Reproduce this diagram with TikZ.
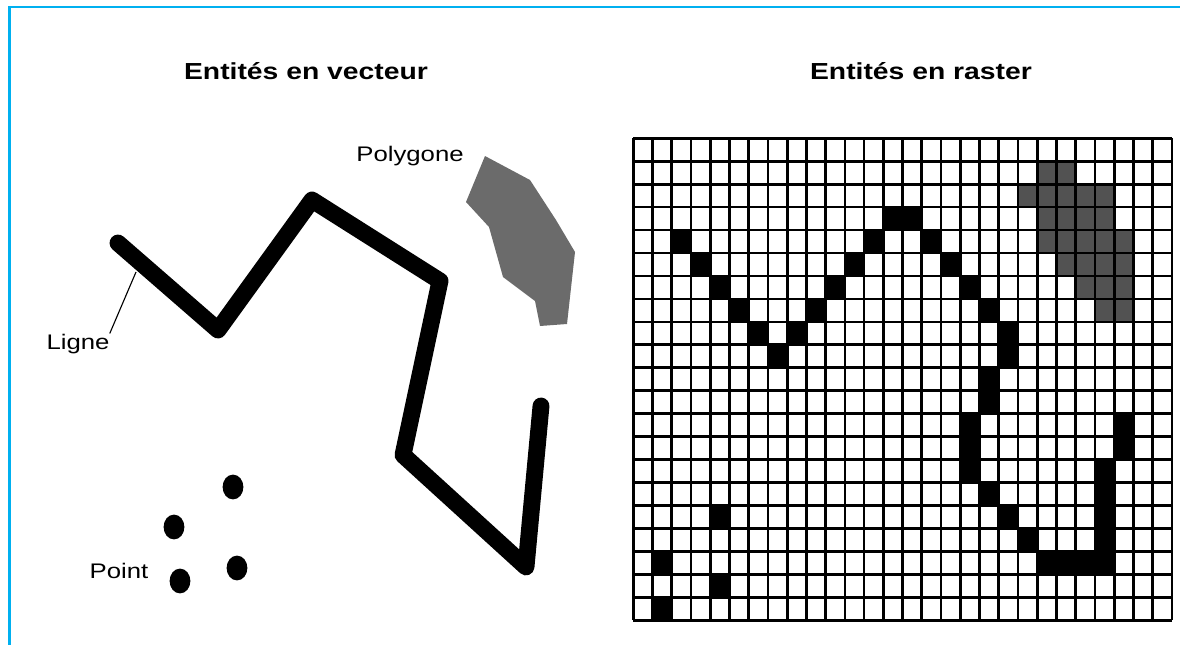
\documentclass[tikz,border=0pt]{standalone}
\usepackage{fontspec}
\setmainfont{Liberation Sans}
\usetikzlibrary{calc,positioning}

\definecolor{frameblue}{RGB}{0,176,240}
\newcommand{\wide}[1]{\scalebox{1.22}[1]{#1}}

\begin{document}
\begin{tikzpicture}[
    x = 0.025cm, y = -0.025cm,
    font = \fontsize{15pt}{18pt}\selectfont
  ]

  \useasboundingbox (0,0) rectangle (1180,645);

  \tikzstyle {every node} = [inner sep = 0, anchor = base]
  \tikzstyle {title} = [font = \fontsize{16.5pt}{20pt}\selectfont\bfseries]
  \tikzstyle {lbl} = [font = \fontsize{15pt}{18pt}\selectfont]
  \tikzstyle {vline} = [line width = 12pt, line join = round, line cap = round]
  \tikzstyle {pix} = [fill = black]
  \tikzstyle {greypix} = [fill = black!68]
  \tikzstyle {gridline} = [line width = 1.9pt]

  % cadre
  \draw [frameblue, line width = 2pt] (9.5,645) -- (9.5,7) -- (1180,7);

  \node [title] (tvec) at (306,79) {\wide{Entités en vecteur}};
  \node [title] (tras) at (921,79) {\wide{Entités en raster}};

  % vecteur
  \coordinate (l1) at (118,243);
  \coordinate (l2) at (218,330);
  \coordinate (l3) at (312,200);
  \coordinate (l4) at (440,281);
  \coordinate (l5) at (403,455);
  \coordinate (l6) at (526,567);
  \coordinate (l7) at (541,406);
  \draw [vline] (l1) -- (l2) -- (l3) -- (l4) -- (l5) -- (l6) -- (l7);

  \fill [black!58] (485,156) -- (530,180) -- (556,220) -- (575,252) -- (567,324)
    -- (540,326) -- (535,301) -- (503,277) -- (489,227) -- (466,202) -- cycle;

  \foreach \px/\py in {233/487, 174/527, 180/581, 237/568}
    \fill (\px,\py) ellipse [x radius = 0.26cm, y radius = 0.31cm];

  \node [lbl] (poly) at (410,161) {\wide{Polygone}};
  \node [lbl] (ligne) at (78,349) {\wide{Ligne}};
  \node [lbl] (point) at (119,578) {\wide{Point}};

  \coordinate (lt) at (136,272);
  \draw [line width = 0.8pt] (ligne.north east) -- (lt);

  % raster
  \begin{scope}[shift = {(633.3,138.3)}, x = 0.48075cm, y = -0.5735cm]
    \foreach \c/\r in {2/4, 3/5, 4/6, 5/7, 6/8, 7/9, 8/8, 9/7, 10/6, 11/5, 12/4,
        13/3, 14/3, 15/4, 16/5, 17/6, 18/7, 19/8, 19/9, 18/10, 18/11, 17/12,
        17/13, 17/14, 18/15, 19/16, 20/17, 21/18, 22/18, 23/18, 24/18, 24/17,
        24/16, 24/15, 24/14, 25/13, 25/12, 4/16, 1/18, 4/19, 1/20}
      \fill [pix] (\c,\r) rectangle ++(1,1);
    \foreach \r/\a/\b in {1/21/22, 2/20/24, 3/21/24, 4/21/25, 5/22/25, 6/23/25, 7/24/25}
      \foreach \c in {\a,...,\b}
        \fill [greypix] (\c,\r) rectangle ++(1,1);
    \foreach \i in {0,...,28}
      \draw [gridline] (\i,0) -- (\i,21);
    \foreach \j in {0,...,21}
      \draw [gridline] (0,\j) -- (28,\j);
  \end{scope}
\end{tikzpicture}
\end{document}
